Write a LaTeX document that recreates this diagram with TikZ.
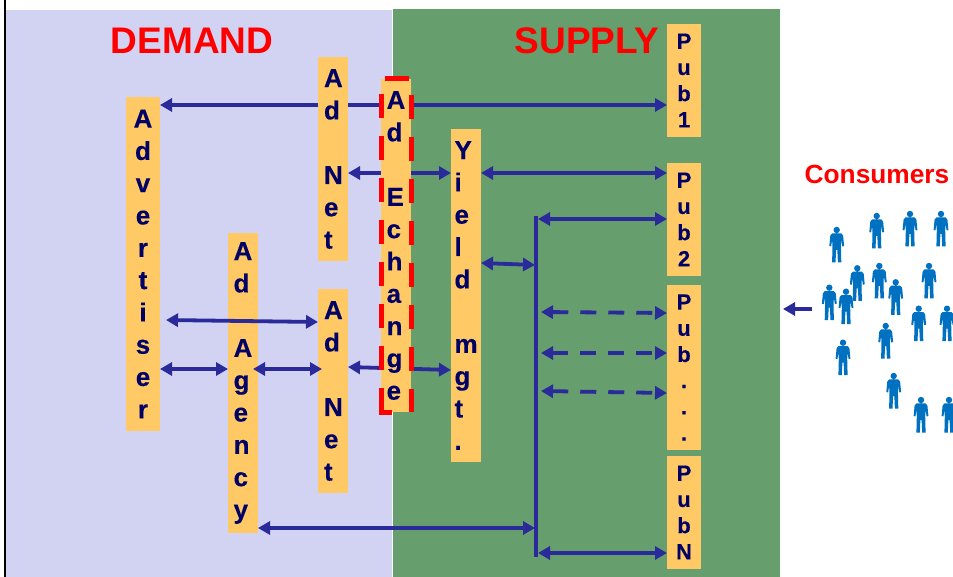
\documentclass[tikz,border=0pt]{standalone}
\usepackage{fontspec}
\setmainfont{Liberation Sans}[BoldFeatures={FakeBold=0.25}]
\newfontfamily\plainbold{Liberation Sans Bold}
\usetikzlibrary{arrows.meta}
\definecolor{lav}{HTML}{D2D2F2}
\definecolor{grn}{HTML}{669E6E}
\definecolor{org}{HTML}{FFC966}
\definecolor{ink}{HTML}{000066}
\definecolor{lnk}{HTML}{2A2A9A}
\definecolor{ppl}{HTML}{0070C0}
\tikzset{
  x=1pt,y=-1pt,
  bx/.style={fill=org,inner sep=0pt,outer sep=0pt,text=ink,anchor=north west},
  big/.style={bx,align=center,font=\bfseries\fontsize{26}{32.3}\selectfont},
  bigl/.style={bx,align=flush left,font=\bfseries\fontsize{26}{32.3}\selectfont},
  small/.style={bx,align=center,font=\bfseries\fontsize{22}{26.2}\selectfont},
  lnkl/.style={draw=lnk,line width=3.8pt,{Triangle[length=12pt,width=13pt]}-{Triangle[length=12pt,width=13pt]}},
  dsh/.style={lnkl,dash pattern=on 16pt off 12pt},
  title/.style={text=red,font=\plainbold\fontsize{37}{40}\selectfont},
  redd/.style={draw=red,line width=5pt},
}
\newcommand{\person}[2]{\fill[ppl,shift={(#1,#2)}]
  (0,-15) circle[radius=3.2]
  (-4.5,-11.6) -- (4.5,-11.6) -- (6.4,-9.5) -- (7.4,1) -- (5.6,1.5) -- (4.6,-5) -- (4.2,1) -- (4.6,17.5)
  -- (1.2,17.5) -- (0.6,5) -- (-0.6,5) -- (-1.2,17.5) -- (-4.6,17.5) -- (-4.2,1) -- (-4.6,-5)
  -- (-5.6,1.5) -- (-7.4,1) -- (-6.4,-9.5) -- cycle;}
\begin{document}
\begin{tikzpicture}
\useasboundingbox (0,0) rectangle (953,577);
\fill[white] (0,0) rectangle (953,577);
\fill[lav] (6,10) rectangle (392,577);
\fill[grn] (393,9) rectangle (780,577);
\fill[black] (3.6,0) rectangle (6.4,577);
\node[title] (dem) at (192,41) {DEMAND};
\node[title] (sup) at (587,41) {SUPPLY};
\node[text=red,font=\plainbold\fontsize{26.3}{30}\selectfont] (con) at (877,174) {Consumers};
% connectors running behind the boxes
\coordinate (a1) at (160,105); \coordinate (p1) at (667,105);
\draw[lnkl] (a1) -- (p1);
\coordinate (n1) at (348,173); \coordinate (y1) at (451,173);
\draw[lnkl] (n1) -- (y1);
\coordinate (n2) at (348,367); \coordinate (y2) at (451,370);
\draw[lnkl] (n2) -- (y2);
% boxes
\node[big,minimum width=34pt,minimum height=334pt] (adv) at (126,97) {A\\d\\v\\e\\r\\t\\i\\s\\e\\r};
\node[bigl,text width=18pt,inner xsep=6pt,minimum height=204pt] (net1) at (318,57) {A\\d\\[32.3pt]N\\e\\t};
\node[bigl,text width=18pt,inner xsep=6pt,minimum height=204pt] (net2) at (318,289) {A\\d\\[32.3pt]N\\e\\t};
\node[bigl,text width=18.8pt,inner xsep=5.6pt,minimum height=300pt] (agy) at (228,233) {A\\d\\[32.3pt]A\\g\\e\\n\\c\\y};
\node[bigl,text width=18.8pt,inner xsep=5.6pt,minimum height=333pt] (exc) at (381,79) {A\\d\\[32.3pt]E\\c\\h\\a\\n\\g\\e};
\node[bigl,text width=23pt,inner xsep=3.5pt,minimum height=333pt] (yld) at (451,129) {Y\\i\\e\\l\\d\\[32.3pt]m\\g\\t\\.};
\node[small,minimum width=34pt,minimum height=113pt] (pub1) at (667,24) {P\\u\\b\\1};
\node[small,minimum width=34pt,minimum height=113pt] (pub2) at (667,163) {P\\u\\b\\2};
\node[small,minimum width=34pt,minimum height=165pt] (pubd) at (667,285) {P\\u\\b\\.\\.\\.};
\node[small,minimum width=34pt,minimum height=113pt] (pubn) at (667,456) {P\\u\\b\\N};
% red dashed frame
\draw[redd,dash pattern=on 24pt off 18pt,dash phase=38pt] (exc.north west) -- (exc.north east) -- (exc.south east);
\draw[redd] (392,412) -- (exc.south west) -- (381,388);
\draw[redd,dash pattern=on 0pt off 18pt on 24pt off 0pt] (381,388) -- (exc.north west);
% bus
\coordinate (bt) at (536,216); \coordinate (bb) at (536,557);
\draw[draw=lnk,line width=4pt] (bt) -- (bb);
% connectors in front
\draw[lnkl] (yld.east |- 0,173) -- (pub2.west |- 0,173);
\draw[lnkl] (538,219) -- (pub2.west |- 0,219);
\draw[lnkl] (481,263) -- (535,265);
\draw[dsh] (541,312) -- (pubd.west |- 0,313);
\draw[dsh] (541,353) -- (pubd.west |- 0,353);
\draw[dsh] (541,391) -- (pubd.west |- 0,393);
\draw[lnkl] (agy.east |- 0,528) -- (535,528);
\draw[lnkl] (538,553) -- (pubn.west |- 0,553);
\draw[lnkl] (166,320) -- (net2.west |- 0,322);
\draw[lnkl] (adv.east |- 0,369) -- (agy.west |- 0,369);
\draw[lnkl] (253,369) -- (322,369);
\coordinate (c1) at (812,309); \coordinate (c2) at (783,309);
\draw[draw=lnk,line width=4pt,-{Triangle[length=12pt,width=13pt]}] (c1) -- (c2);
% people
\foreach \px/\py in {836.7/245,876.7/231,910/229,941/229,857.3/283.3,879.3/281,929/281,895.7/297.3,829.3/302.7,846/306.7,918.7/323.7,947/323.7,885.7/341,843/357.7,893.7/391,921/415,949/415}
  {\person{\px}{\py}}
\end{tikzpicture}
\end{document}
